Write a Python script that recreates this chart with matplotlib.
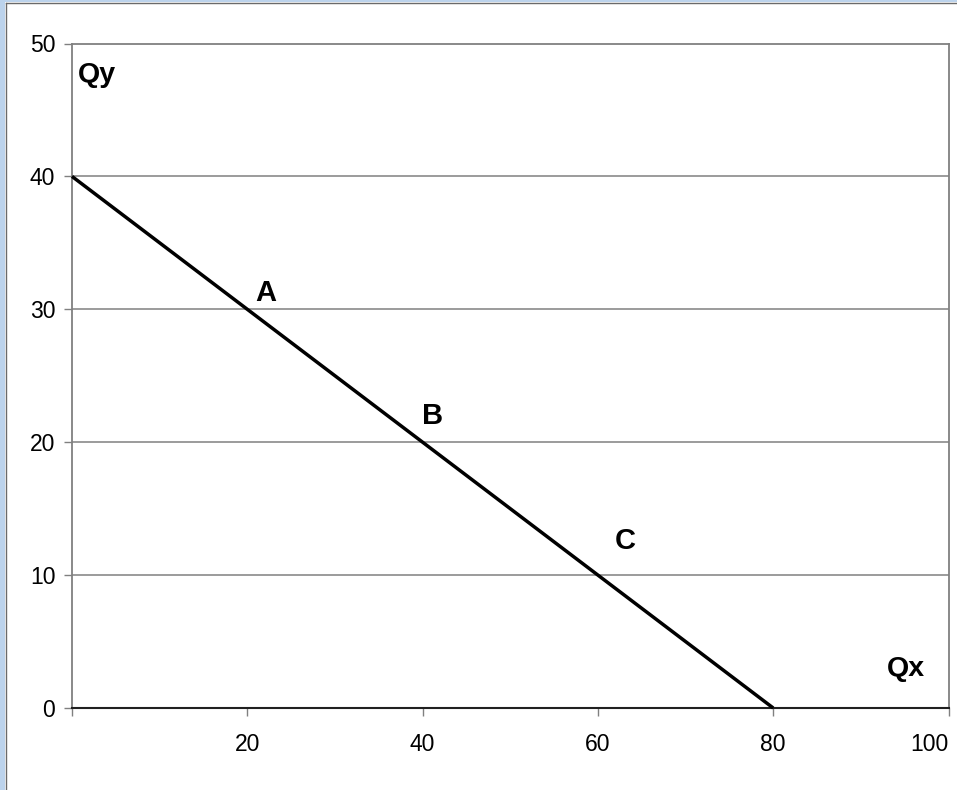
import matplotlib
matplotlib.use("Agg")
import matplotlib.pyplot as plt
from matplotlib.patches import Rectangle
from matplotlib.lines import Line2D

plt.rcParams['font.family'] = ['Liberation Sans', 'DejaVu Sans']

# Data
qx = [0, 80]
qy = [40, 0]
point_labels = ["A", "B", "C"]
point_x = [22.1, 41.1, 63.1]
point_y = [31.2, 22.0, 12.6]
x_ticks = [20, 40, 60, 80, 100]
y_ticks = [0, 10, 20, 30, 40, 50]

W, H = 957, 790
fig = plt.figure(figsize=(W / 100, H / 100), dpi=100)
fig.patch.set_facecolor('white')

# window frame decoration
fig.patches.append(Rectangle((0, 0), 5 / W, 1, transform=fig.transFigure,
                             facecolor='#bcd3ec', edgecolor='none', zorder=0))
fig.patches.append(Rectangle((0, 1 - 2 / H), 1, 2 / H, transform=fig.transFigure,
                             facecolor='#bcd3ec', edgecolor='none', zorder=0))
fig.lines.append(Line2D([5.5 / W, 5.5 / W], [0, 1 - 2.5 / H], transform=fig.transFigure,
                        color='#6a6a6a', lw=1.0))
fig.lines.append(Line2D([5.5 / W, 1], [1 - 2.5 / H, 1 - 2.5 / H], transform=fig.transFigure,
                        color='#6a6a6a', lw=1.0))

left, right, top, bottom = 72, 948.5, 43.5, 708
ax = fig.add_axes([left / W, 1 - bottom / H, (right - left) / W, (bottom - top) / H])
ax.set_xlim(0, 100)
ax.set_ylim(0, 50)

for yv in y_ticks[1:-1]:
    ax.axhline(yv, color='#808080', lw=1.1, zorder=1)

ax.plot(qx, qy, color='black', lw=2.5, solid_capstyle='butt', zorder=3, clip_on=False)

for lab, px, py in zip(point_labels, point_x, point_y):
    ax.text(px, py, lab, fontsize=21, fontweight='bold', ha='center', va='center')
ax.text(2.9, 47.6, "Qy", fontsize=20.5, fontweight='bold', ha='center', va='center')
ax.text(95.1, 2.9, "Qx", fontsize=20.5, fontweight='bold', ha='center', va='center')

ax.set_xticks([0] + x_ticks)
ax.set_xticklabels([""] + [str(v) for v in x_ticks])
ax.set_yticks(y_ticks)
ax.set_yticklabels([str(v) for v in y_ticks])
ax.tick_params(axis='both', direction='out', length=6, width=1, colors='#808080',
               labelcolor='black', labelsize=16.5)
ax.tick_params(axis='x', pad=12)
ax.tick_params(axis='y', pad=6)
ax.get_xticklabels()[-1].set_horizontalalignment('right')

for s in ['left', 'top', 'right']:
    ax.spines[s].set_color('#808080')
    ax.spines[s].set_linewidth(1.3)
ax.spines['bottom'].set_color('#202020')
ax.spines['bottom'].set_linewidth(1.5)

fig.savefig("out.png", dpi=100, facecolor='white')
